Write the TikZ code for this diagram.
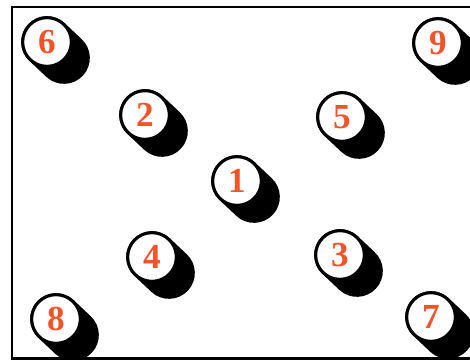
\documentclass[tikz,border=0pt]{standalone}
\usepackage{fontspec}
\setmainfont{Liberation Serif}
\definecolor{ballred}{RGB}{240, 84, 40}
\usetikzlibrary{backgrounds}
\tikzset{
  % White disc with a heavy black rim and a red number.
  ball/.style={
    circle, draw=black, line width=2.6pt,
    fill=white,
    minimum size=14.6mm, inner sep=0pt,
    font=\fontsize{30}{32}\selectfont\bfseries,
    text=ballred,
  },
  % Black swept shadow behind each disc.
  ball-shadow/.style={
    draw=black, line width=15.5mm, line cap=round,
  },
  % Page frame.
  frame/.style={draw=black, line width=2.4pt},
}
\begin{document}
\begin{tikzpicture}[x=0.3mm, y=-0.3mm]
  \useasboundingbox (0,0) rectangle (470,359);

  % Frame, running off the right edge.
  \draw[frame] (12,7) rectangle (500,358.8);

  % Corner discs.
  \node[ball] (b6) at (47,42)  {6};
  \node[ball] (b9) at (438,43) {9};
  \node[ball] (b8) at (56,319) {8};
  \node[ball] (b7) at (431,317) {7};

  % Inner discs.
  \node[ball] (b2) at (145,115) {2};
  \node[ball] (b5) at (342,117) {5};
  \node[ball] (b1) at (237,181) {1};
  \node[ball] (b4) at (152,257) {4};
  \node[ball] (b3) at (340,255) {3};

  % Shadows, behind the discs.
  \begin{scope}[on background layer]
    \foreach \b in {b1,b2,b3,b4,b5,b6,b7,b8,b9}
      \draw[ball-shadow] (\b.center) -- ++(17,16);
  \end{scope}

\end{tikzpicture}
\end{document}
